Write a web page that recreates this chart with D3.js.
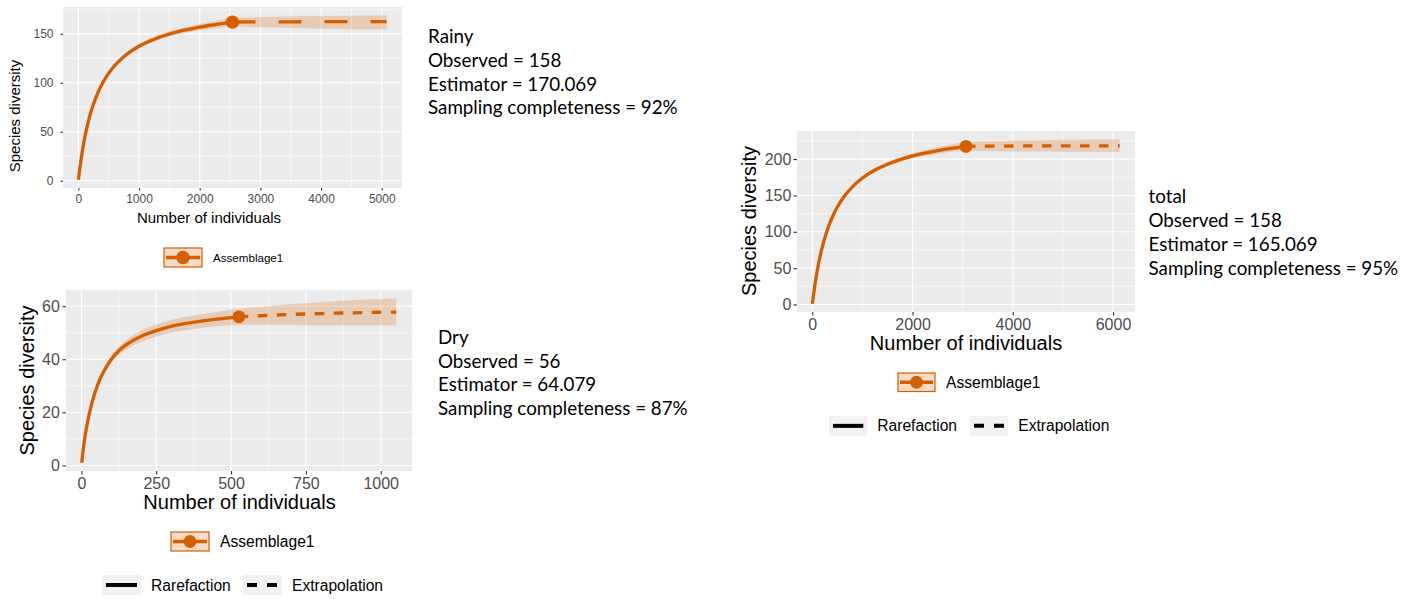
<!DOCTYPE html>
<html>
<head>
<meta charset="utf-8">
<script src="https://cdn.jsdelivr.net/npm/d3@7/dist/d3.min.js"></script>
<style>
  html, body { margin: 0; padding: 0; background: #ffffff; }
  svg { display: block; }
  .note { font-family: "Lato", "Open Sans", sans-serif; fill: #000; }
</style>
</head>
<body>
<svg id="chart" width="1415" height="599"></svg>
<script>
// ---- Rainy season: rarefaction (observed part) and extrapolation ----
const rainyRareX  = [1, 25, 50, 100, 150, 200, 300, 400, 500, 600, 750, 1000, 1250, 1500, 1750, 2000, 2250, 2540];
const rainyRareY  = [1, 12.8, 23.9, 42.3, 56.8, 68.7, 86.7, 99.9, 109.8, 117.7, 126.7, 137.3, 144.5, 149.8, 153.7, 156.9, 159.4, 162];
const rainyRareLo = [1, 12.5, 23.4, 41.5, 55.8, 67.5, 85.3, 98.3, 108, 115.8, 124.7, 135.1, 142.1, 147.2, 150.8, 153.7, 155.7, 157.5];
const rainyRareHi = [1, 13.1, 24.4, 43.1, 57.8, 69.9, 88.1, 101.5, 111.6, 119.6, 128.7, 139.5, 146.9, 152.4, 156.6, 160.1, 163.1, 166.5];
const rainyExtX   = [2540, 3000, 3500, 4000, 4500, 5080];
const rainyExtY   = [162, 162.2, 162.3, 162.4, 162.5, 162.5];
const rainyExtLo  = [157.5, 156.6, 155.9, 155.3, 154.8, 154.4];
const rainyExtHi  = [166.5, 167, 167.6, 168.1, 168.5, 169];
const rainyXTicks = [0, 1000, 2000, 3000, 4000, 5000];
const rainyXMinor = [500, 1500, 2500, 3500, 4500];
const rainyYTicks = [0, 50, 100, 150];
const rainyYMinor = [25, 75, 125, 175];

// ---- Dry season ----
const dryRareX  = [1, 10, 20, 30, 40, 50, 60, 75, 100, 125, 150, 200, 250, 300, 350, 400, 450, 526];
const dryRareY  = [1, 9.5, 16, 21.3, 25.5, 29, 32, 35.5, 40, 43.2, 45.5, 48.7, 50.8, 52.4, 53.5, 54.4, 55.1, 56];
const dryRareLo = [1, 9.2, 15.6, 20.8, 24.9, 28.3, 31.2, 34.5, 38.7, 41.7, 43.7, 46.6, 48.5, 50, 51, 51.8, 52.4, 53];
const dryRareHi = [1, 9.8, 16.4, 21.8, 26.1, 29.7, 32.8, 36.5, 41.3, 44.7, 47.3, 50.8, 53.1, 54.8, 56, 57, 57.8, 59];
const dryExtX   = [526, 600, 700, 800, 900, 1052];
const dryExtY   = [56, 56.4, 56.9, 57.2, 57.5, 57.8];
const dryExtLo  = [53, 53, 52.9, 52.8, 52.8, 52.7];
const dryExtHi  = [59, 59.8, 60.7, 61.5, 62.2, 63];
const dryXTicks = [0, 250, 500, 750, 1000];
const dryXMinor = [125, 375, 625, 875];
const dryYTicks = [0, 20, 40, 60];
const dryYMinor = [10, 30, 50];

// ---- Both seasons pooled ----
const totalRareX  = [1, 25, 50, 100, 150, 200, 300, 400, 500, 650, 800, 1000, 1250, 1500, 1750, 2000, 2500, 3066];
const totalRareY  = [1, 13.8, 26.1, 47.3, 64.8, 79.4, 102.5, 120.3, 134.1, 149.9, 161.9, 173.9, 184.9, 193, 199.3, 204.3, 211.7, 217.5];
const totalRareLo = [1, 13.5, 25.6, 46.5, 63.8, 78.2, 101, 118.6, 132.2, 147.9, 159.7, 171.4, 182.1, 190, 196, 200.7, 207.2, 211.5];
const totalRareHi = [1, 14.1, 26.6, 48.1, 65.8, 80.6, 104, 122, 136, 151.9, 164.1, 176.4, 187.7, 196, 202.6, 207.9, 216.2, 223.5];
const totalExtX   = [3066, 3500, 4000, 4500, 5000, 6132];
const totalExtY   = [217.5, 217.8, 218, 218.1, 218.2, 218.3];
const totalExtLo  = [211.5, 211, 210.6, 210.3, 210.1, 209.8];
const totalExtHi  = [223.5, 224.5, 225.3, 226, 226.5, 227.3];
const totalXTicks = [0, 2000, 4000, 6000];
const totalXMinor = [1000, 3000, 5000];
const totalYTicks = [0, 50, 100, 150, 200];
const totalYMinor = [25, 75, 125, 175, 225];

// ---- Text blocks beside each panel ----
const rainyNote = ["Rainy", "Observed = 158", "Estimator = 170.069", "Sampling completeness = 92%"];
const dryNote   = ["Dry", "Observed = 56", "Estimator = 64.079", "Sampling completeness = 87%"];
const totalNote = ["total", "Observed = 158", "Estimator = 165.069", "Sampling completeness = 95%"];

const assemblageName = "Assemblage1";
const methodNames = ["Rarefaction", "Extrapolation"];
const xTitle = "Number of individuals";
const yTitle = "Species diversity";

const ORANGE = "#D55E00";
const PANEL_BG = "#EBEBEB";
const FONT = "'Liberation Sans', Arial, sans-serif";

const svg = d3.select("#chart");

function zip(xs, ys, lo, hi) {
  return xs.map((x, i) => ({ x, y: ys[i], lo: lo[i], hi: hi[i] }));
}

function drawPanel(p) {
  const rare = zip(p.rareX, p.rareY, p.rareLo, p.rareHi);
  const ext = zip(p.extX, p.extY, p.extLo, p.extHi);
  const all = rare.concat(ext.slice(1));

  // ggplot-style 5% expansion of the data range
  const xr = d3.extent(all, d => d.x);
  const yr = [d3.min(all, d => d.lo), d3.max(all, d => d.hi)];
  const xe = (xr[1] - xr[0]) * 0.05, ye = (yr[1] - yr[0]) * 0.05;
  const x = d3.scaleLinear().domain([xr[0] - xe, xr[1] + xe]).range([p.box.left, p.box.right]);
  const y = d3.scaleLinear().domain([yr[0] - ye, yr[1] + ye]).range([p.box.bottom, p.box.top]);

  const g = svg.append("g");
  g.append("rect")
    .attr("x", p.box.left).attr("y", p.box.top)
    .attr("width", p.box.right - p.box.left).attr("height", p.box.bottom - p.box.top)
    .attr("fill", PANEL_BG);

  // grid
  const grid = g.append("g").attr("stroke", "#fff").attr("fill", "none");
  grid.selectAll(".xm").data(p.xMinor).join("line")
    .attr("x1", d => x(d)).attr("x2", d => x(d)).attr("y1", p.box.top).attr("y2", p.box.bottom)
    .attr("stroke-width", p.gridMinor);
  grid.selectAll(".ym").data(p.yMinor).join("line")
    .attr("y1", d => y(d)).attr("y2", d => y(d)).attr("x1", p.box.left).attr("x2", p.box.right)
    .attr("stroke-width", p.gridMinor);
  grid.selectAll(".xM").data(p.xTicks).join("line")
    .attr("x1", d => x(d)).attr("x2", d => x(d)).attr("y1", p.box.top).attr("y2", p.box.bottom)
    .attr("stroke-width", p.gridMajor);
  grid.selectAll(".yM").data(p.yTicks).join("line")
    .attr("y1", d => y(d)).attr("y2", d => y(d)).attr("x1", p.box.left).attr("x2", p.box.right)
    .attr("stroke-width", p.gridMajor);

  // confidence band
  const area = d3.area().curve(d3.curveMonotoneX)
    .x(d => x(d.x)).y0(d => y(d.lo)).y1(d => y(d.hi));
  g.append("path").datum(all).attr("d", area)
    .attr("fill", ORANGE).attr("fill-opacity", 0.22);

  const line = d3.line().curve(d3.curveMonotoneX).x(d => x(d.x)).y(d => y(d.y));
  g.append("path").datum(rare).attr("d", line)
    .attr("fill", "none").attr("stroke", ORANGE).attr("stroke-width", p.lw);
  g.append("path").datum(ext).attr("d", line)
    .attr("fill", "none").attr("stroke", ORANGE).attr("stroke-width", p.lw)
    .attr("stroke-dasharray", p.dash.join(","));
  const obs = rare[rare.length - 1];
  g.append("circle").attr("cx", x(obs.x)).attr("cy", y(obs.y)).attr("r", p.pr).attr("fill", ORANGE);

  // axes
  const ax = g.append("g").attr("transform", `translate(0,${p.box.bottom})`)
    .call(d3.axisBottom(x).tickValues(p.xTicks).tickFormat(d3.format("d"))
      .tickSize(p.tickLen).tickPadding(p.xPad).tickSizeOuter(0));
  const ay = g.append("g").attr("transform", `translate(${p.box.left},0)`)
    .call(d3.axisLeft(y).tickValues(p.yTicks).tickFormat(d3.format("d"))
      .tickSize(p.tickLen).tickPadding(p.yPad).tickSizeOuter(0));
  [ax, ay].forEach(a => {
    a.select(".domain").remove();
    a.selectAll(".tick line").attr("stroke", "#333333").attr("stroke-width", p.gridMajor);
    a.selectAll(".tick text").attr("fill", "#4D4D4D")
      .style("font-family", FONT).style("font-size", p.tickFont + "px");
  });

  // axis titles
  g.append("text").attr("x", p.xTitle[0]).attr("y", p.xTitle[1])
    .attr("text-anchor", "middle").style("font-family", FONT).style("font-size", p.titleFont + "px")
    .text(xTitle);
  g.append("text").attr("transform", `translate(${p.yTitle[0]},${p.yTitle[1]}) rotate(-90)`)
    .attr("text-anchor", "middle").style("font-family", FONT).style("font-size", p.titleFont + "px")
    .text(yTitle);

  // colour legend
  const k = p.legKey;
  const lg = g.append("g");
  lg.append("rect").attr("x", k[0]).attr("y", k[1]).attr("width", k[2]).attr("height", k[3])
    .attr("fill", ORANGE).attr("fill-opacity", 0.22).attr("stroke", ORANGE).attr("stroke-width", 1.2);
  lg.append("line").attr("x1", k[0] + 2).attr("x2", k[0] + k[2] - 2)
    .attr("y1", k[1] + k[3] / 2).attr("y2", k[1] + k[3] / 2)
    .attr("stroke", ORANGE).attr("stroke-width", p.lw);
  lg.append("circle").attr("cx", k[0] + k[2] / 2).attr("cy", k[1] + k[3] / 2).attr("r", p.pr)
    .attr("fill", ORANGE);
  lg.append("text").attr("x", k[0] + k[2] + p.legGap).attr("y", k[1] + k[3] / 2)
    .attr("dy", "0.36em").style("font-family", FONT).style("font-size", p.legFont + "px")
    .text(assemblageName);

  // line-type legend
  if (p.typeKeys) {
    p.typeKeys.forEach((tk, i) => {
      const tg = g.append("g");
      tg.append("rect").attr("x", tk[0]).attr("y", tk[1]).attr("width", tk[2]).attr("height", tk[3])
        .attr("fill", "#F2F2F2");
      tg.append("line").attr("x1", tk[0] + 4).attr("x2", tk[0] + tk[2] - 4)
        .attr("y1", tk[1] + tk[3] / 2).attr("y2", tk[1] + tk[3] / 2)
        .attr("stroke", "#000").attr("stroke-width", 4)
        .attr("stroke-dasharray", i === 1 ? "10,10" : null);
      tg.append("text").attr("x", tk[0] + tk[2] + 10).attr("y", tk[1] + tk[3] / 2)
        .attr("dy", "0.36em").style("font-family", FONT).style("font-size", p.legFont + "px")
        .text(methodNames[i]);
    });
  }
}

function drawNote(lines, x0, y0, step, size) {
  svg.append("g").selectAll("text").data(lines).join("text")
    .attr("class", "note")
    .attr("x", x0).attr("y", (d, i) => y0 + i * step)
    .style("font-size", size + "px")
    .text(d => d);
}

drawPanel({
  rareX: rainyRareX, rareY: rainyRareY, rareLo: rainyRareLo, rareHi: rainyRareHi,
  extX: rainyExtX, extY: rainyExtY, extLo: rainyExtLo, extHi: rainyExtHi,
  xTicks: rainyXTicks, xMinor: rainyXMinor, yTicks: rainyYTicks, yMinor: rainyYMinor,
  box: { left: 63, top: 7, right: 402, bottom: 188 },
  gridMajor: 1.1, gridMinor: 0.55, lw: 3.3, pr: 6.7, dash: [23, 23],
  tickLen: 2.5, xPad: 4, yPad: 7, tickFont: 12, titleFont: 15,
  xTitle: [209, 223], yTitle: [20, 116],
  legKey: [164, 248, 38, 19], legGap: 11, legFont: 11.6
});

drawPanel({
  rareX: dryRareX, rareY: dryRareY, rareLo: dryRareLo, rareHi: dryRareHi,
  extX: dryExtX, extY: dryExtY, extLo: dryExtLo, extHi: dryExtHi,
  xTicks: dryXTicks, xMinor: dryXMinor, yTicks: dryYTicks, yMinor: dryYMinor,
  box: { left: 66, top: 290, right: 412, bottom: 471 },
  gridMajor: 1.1, gridMinor: 0.55, lw: 3.3, pr: 6.4, dash: [9.5, 9.5],
  tickLen: 3.6, xPad: 3, yPad: 2.5, tickFont: 16, titleFont: 20,
  xTitle: [239.5, 508.5], yTitle: [34.3, 380.5],
  legKey: [171, 532, 38, 19], legGap: 11, legFont: 15.6,
  typeKeys: [[102, 575, 39, 20], [243, 575, 39, 20]]
});

drawPanel({
  rareX: totalRareX, rareY: totalRareY, rareLo: totalRareLo, rareHi: totalRareHi,
  extX: totalExtX, extY: totalExtY, extLo: totalExtLo, extHi: totalExtHi,
  xTicks: totalXTicks, xMinor: totalXMinor, yTicks: totalYTicks, yMinor: totalYMinor,
  box: { left: 797, top: 131, right: 1135, bottom: 312 },
  gridMajor: 1.1, gridMinor: 0.55, lw: 3.3, pr: 6.4, dash: [9.5, 9.5],
  tickLen: 3.6, xPad: 3, yPad: 2, tickFont: 16, titleFont: 20,
  xTitle: [966, 349.5], yTitle: [756, 221],
  legKey: [898, 373, 37, 18.5], legGap: 11, legFont: 15.6,
  typeKeys: [[829, 416, 38.3, 19.7], [970, 416, 38.3, 19.7]]
});

drawNote(rainyNote, 428, 43.3, 23.6, 18.8);
drawNote(dryNote, 438, 344, 23.5, 18.8);
drawNote(totalNote, 1148.5, 203.3, 23.9, 18.8);
</script>
</body>
</html>
